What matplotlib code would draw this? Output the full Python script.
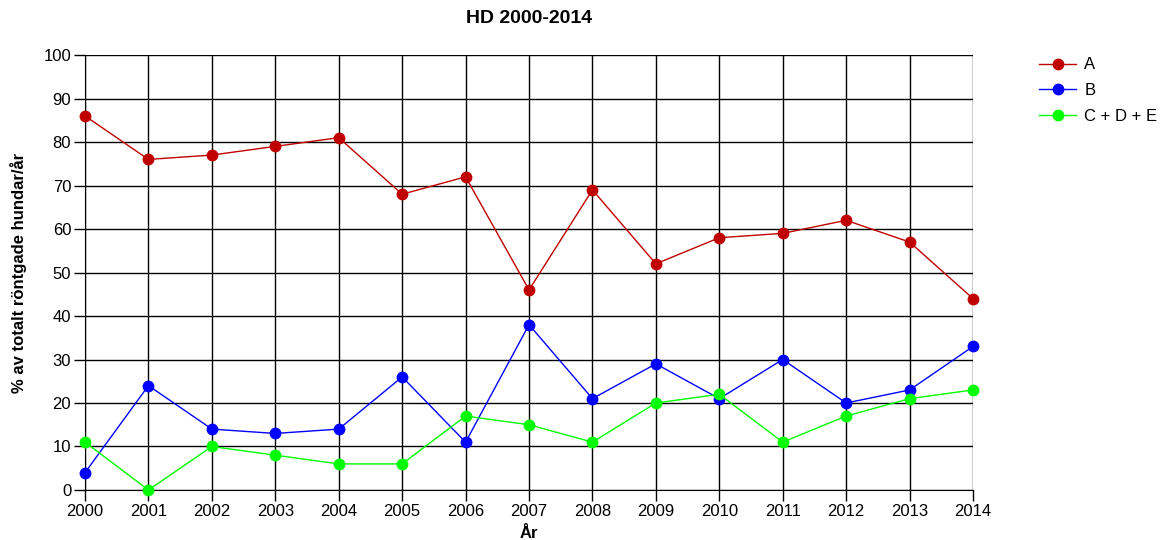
import matplotlib
matplotlib.use('Agg')
import matplotlib.pyplot as plt

plt.rcParams['font.family'] = ['Liberation Sans', 'DejaVu Sans']

years = list(range(2000, 2015))
a_vals = [86, 76, 77, 79, 81, 68, 72, 46, 69, 52, 58, 59, 62, 57, 44]
b_vals = [4, 24, 14, 13, 14, 26, 11, 38, 21, 29, 21, 30, 20, 23, 33]
cde_vals = [11, 0, 10, 8, 6, 6, 17, 15, 11, 20, 22, 11, 17, 21, 23]

fig = plt.figure(figsize=(11.6, 5.4), dpi=100)
ax = fig.add_axes([0.0733, 0.0926, 0.7655, 0.8055])

ax.plot(years, a_vals, color='#C00000', lw=1, marker='o', ms=7.5, label='A', clip_on=False, zorder=3)
ax.plot(years, b_vals, color='#0000FF', lw=1, marker='o', ms=7.5, label='B', clip_on=False, zorder=3)
ax.plot(years, cde_vals, color='#00FF00', lw=1, marker='o', ms=7.5, label='C + D + E', clip_on=False, zorder=3)

ax.set_xlim(2000, 2014)
ax.set_ylim(0, 100)
ax.set_xticks(years)
ax.set_yticks(range(0, 101, 10))
ax.grid(True, color='black', lw=1)
ax.set_axisbelow(True)
for s in ['top', 'right']:
    ax.spines[s].set_visible(False)
ax.tick_params(axis='both', direction='out', length=8, width=1, labelsize=12, pad=2)

ax.set_title('HD 2000-2014', fontsize=14, fontweight='bold', pad=23)
ax.set_xlabel('År', fontsize=12, fontweight='bold', labelpad=5)
ax.set_ylabel('% av totalt röntgade hundar/år', fontsize=12, fontweight='bold', labelpad=12)

ax.legend(loc='upper left', bbox_to_anchor=(1.067, 1.01), frameon=False, fontsize=12,
          handlelength=2.2, handletextpad=0.5, labelspacing=0.65, borderaxespad=0)

fig.savefig('out.png', dpi=100)
